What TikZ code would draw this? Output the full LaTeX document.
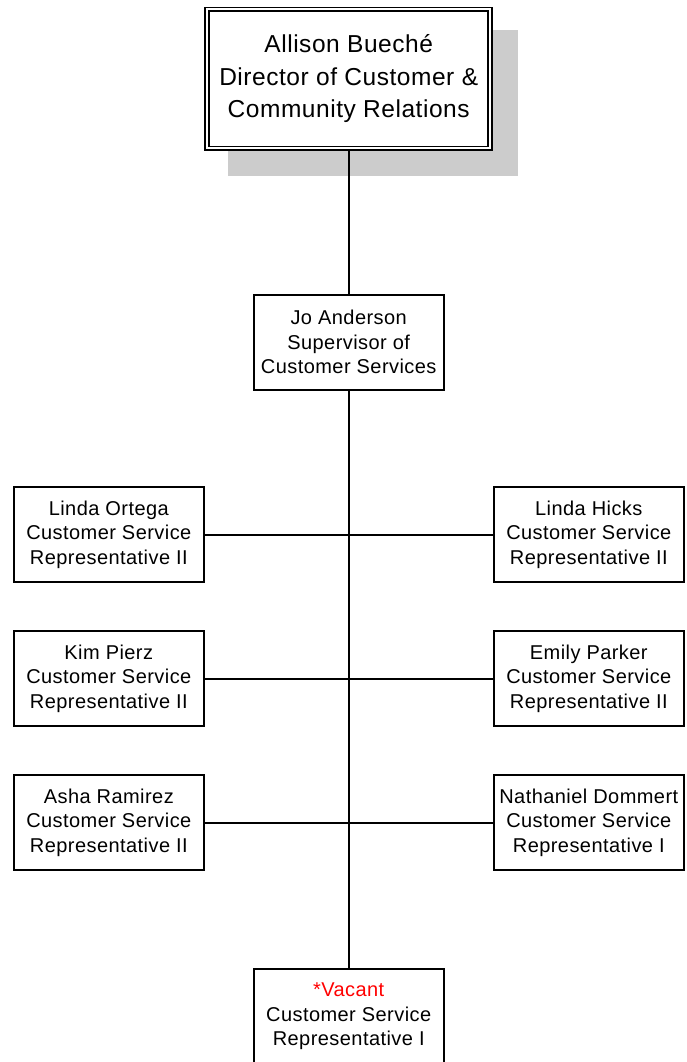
\documentclass[tikz,border=0pt]{standalone}
\usepackage{fontspec}
\usetikzlibrary{positioning}
\newfontfamily\chartfont{Liberation Sans}[LetterSpace=2.2]
\definecolor{shadowgray}{RGB}{204,204,204}

\begin{document}
\begin{tikzpicture}[x=1pt,y=-1pt,line width=2pt,
  every node/.style={shape=rectangle,draw,align=center,inner sep=0pt},
  staff/.style={minimum width=190pt,minimum height=95pt,
    font=\chartfont\fontsize{20}{24.5}\selectfont},
  head/.style={double,double distance=2pt,line width=1.75pt,
    minimum width=283pt,minimum height=139pt,
    font=\chartfont\fontsize{24.5}{32.5}\selectfont}]
\useasboundingbox (0,0) rectangle (687,1062);
% shadow behind the director box
\fill[shadowgray] (228,30) rectangle (518,176);

\node[head,fill=white] (d1) at (348.7,78.9) {Allison Bueché\\Director of Customer \&\\Community Relations};
\node[staff] (s1) [below=144.5pt of d1] {Jo Anderson\\Supervisor of\\Customer Services};
\node[staff] (l1) at (108.8,534.5) {Linda Ortega\\Customer Service\\Representative II};
\node[staff] (r1) [right=288pt of l1] {Linda Hicks\\Customer Service\\Representative II};
\node[staff] (l2) [below=47pt of l1] {Kim Pierz\\Customer Service\\Representative II};
\node[staff] (r2) [right=288pt of l2] {Emily Parker\\Customer Service\\Representative II};
\node[staff] (l3) [below=47pt of l2] {Asha Ramirez\\Customer Service\\Representative II};
\node[staff] (r3) [right=288pt of l3] {Nathaniel Dommert\\Customer Service\\Representative I};
\node[staff] (v1) [below=577pt of s1] {\textcolor{red}{*Vacant}\\Customer Service\\Representative I};

\draw (d1) -- (s1);
\draw (s1) -- (v1);
\draw (l1) -- (r1);
\draw (l2) -- (r2);
\draw (l3) -- (r3);
\end{tikzpicture}
\end{document}
